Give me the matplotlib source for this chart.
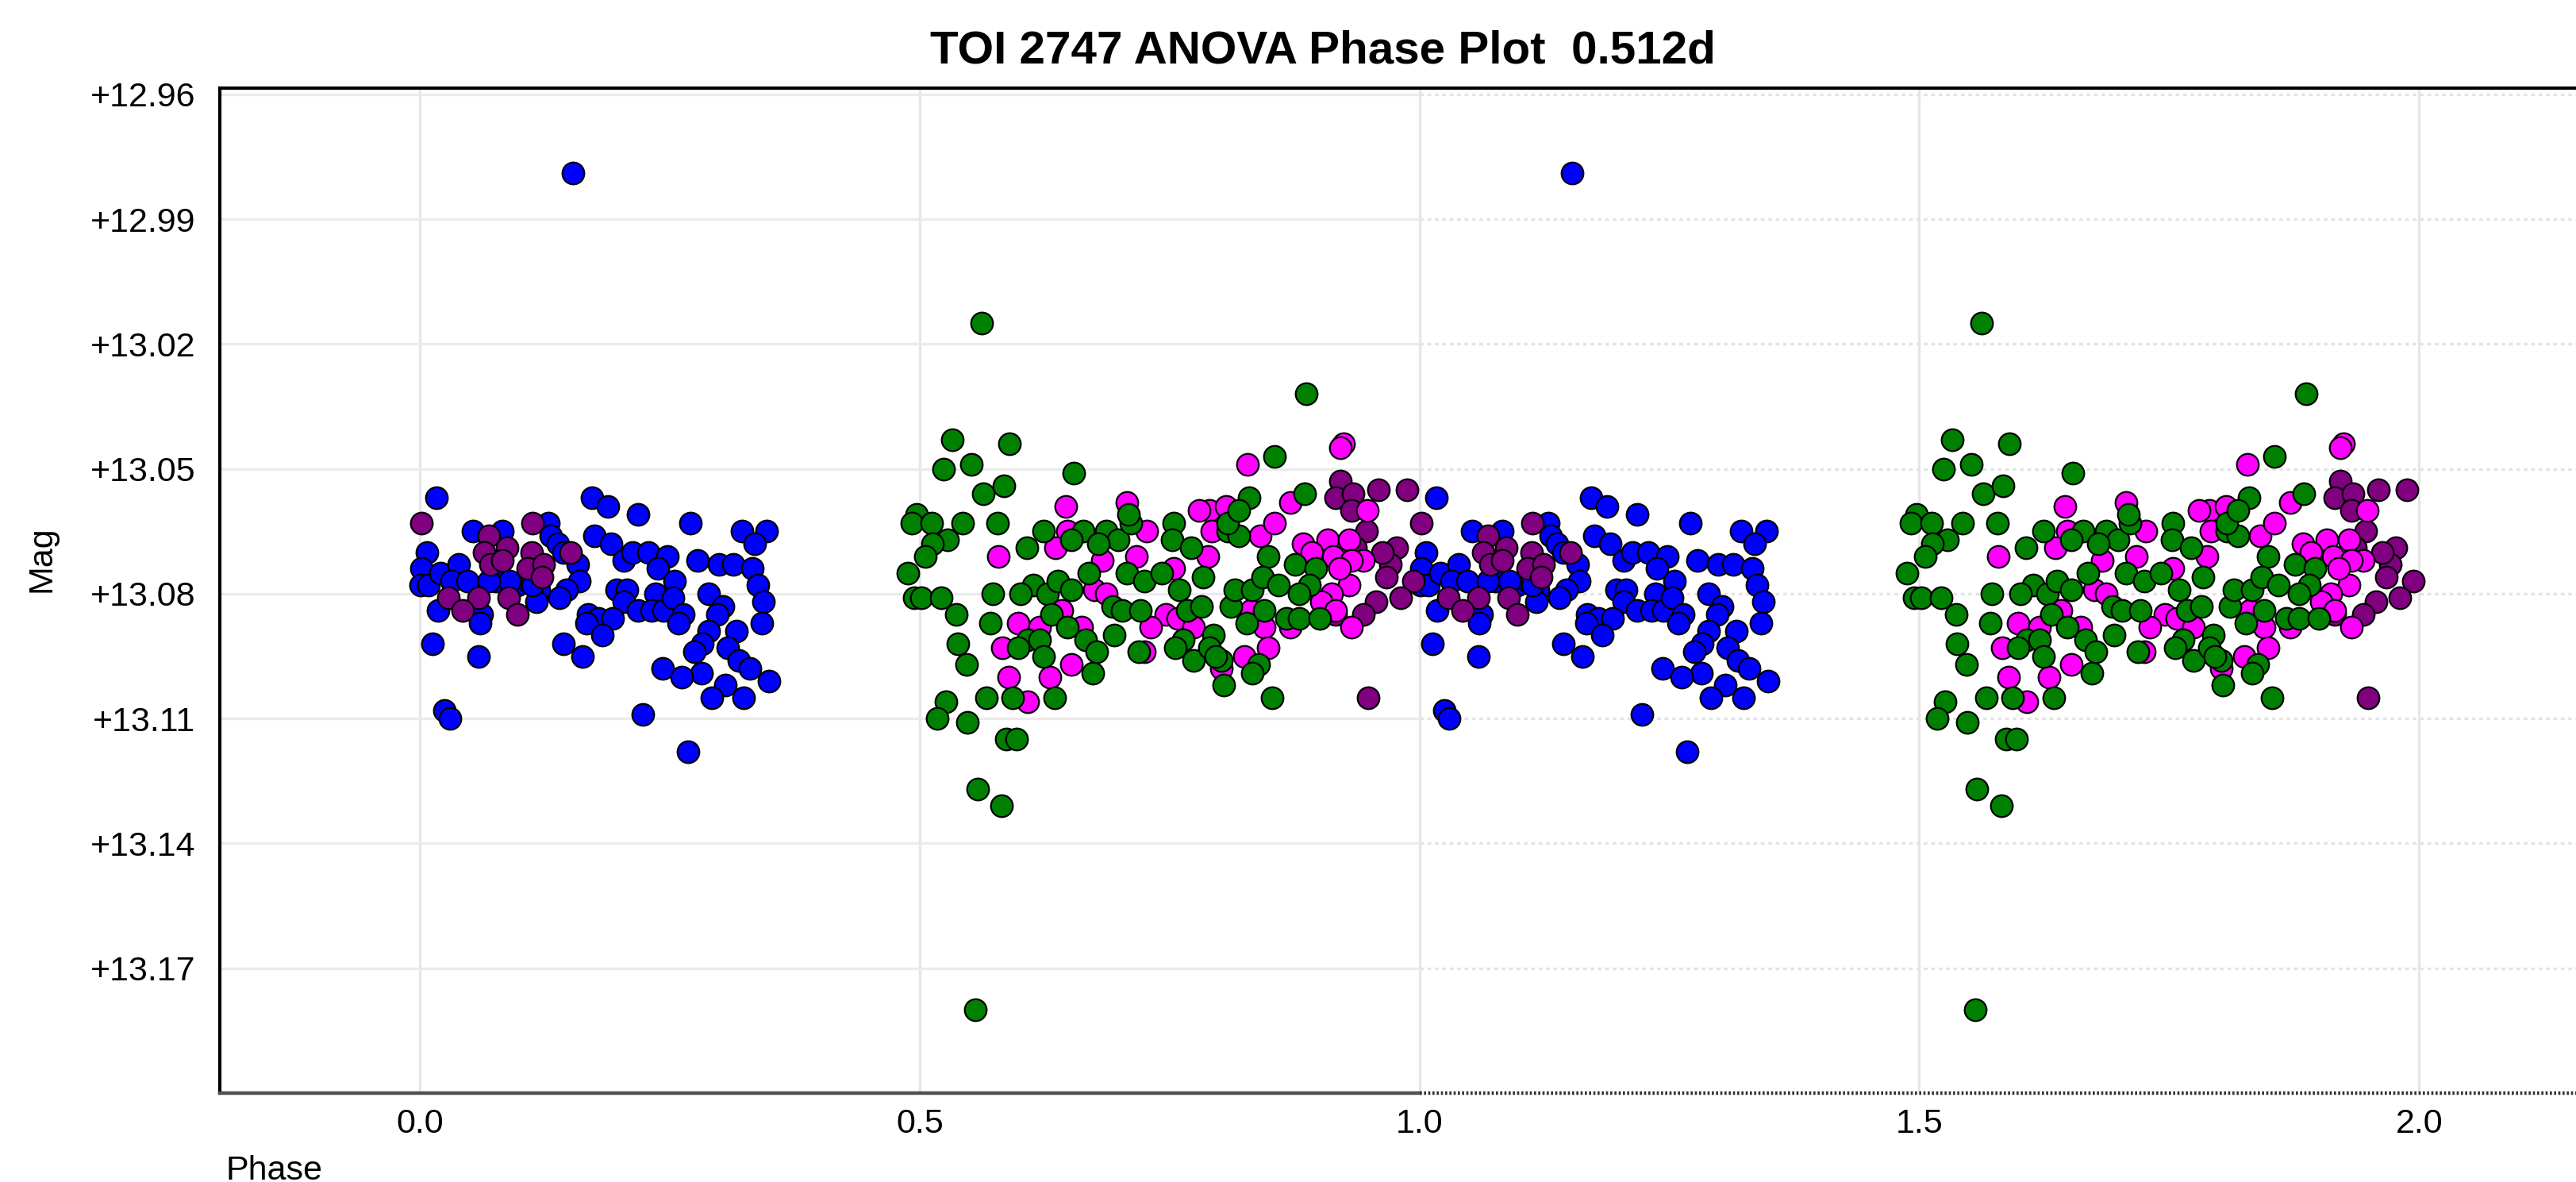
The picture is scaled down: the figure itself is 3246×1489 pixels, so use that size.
import matplotlib
matplotlib.use("Agg")
import matplotlib.pyplot as plt
import numpy as np

plt.rcParams['font.family'] = ['Liberation Sans', 'DejaVu Sans']

# phase (0..1) and magnitude; every point is shown twice (phase, phase + 1)
blue_phase = [0.153, 0.017, 0.007, 0.002, 0.001, 0.009, 0.021, 0.039, 0.032, 0.048,
              0.018, 0.013, 0.059, 0.025, 0.030, 0.053, 0.083, 0.076, 0.062, 0.060,
              0.129, 0.131, 0.138, 0.144, 0.158, 0.160, 0.147, 0.119, 0.117, 0.140,
              0.098, 0.108, 0.090, 0.144, 0.163, 0.172, 0.188, 0.218, 0.175, 0.191,
              0.204, 0.213, 0.229, 0.248, 0.238, 0.255, 0.271, 0.278, 0.299, 0.314,
              0.333, 0.322, 0.347, 0.335, 0.338, 0.344, 0.342, 0.197, 0.207, 0.236,
              0.204, 0.218, 0.232, 0.244, 0.253, 0.264, 0.259, 0.168, 0.179, 0.193,
              0.167, 0.183, 0.289, 0.303, 0.298, 0.289, 0.317, 0.283, 0.275, 0.308,
              0.319, 0.330, 0.282, 0.243, 0.262, 0.306, 0.292, 0.324, 0.349, 0.223,
              0.268, 0.113, 0.069]
blue_mag = [12.979, 13.057, 13.070, 13.074, 13.078, 13.078, 13.075, 13.073, 13.077, 13.077,
            13.084, 13.092, 13.095, 13.108, 13.110, 13.065, 13.065, 13.077, 13.085, 13.087,
            13.063, 13.066, 13.068, 13.070, 13.073, 13.077, 13.079, 13.079, 13.082, 13.081,
            13.078, 13.077, 13.077, 13.092, 13.095, 13.057, 13.059, 13.061, 13.066, 13.068,
            13.072, 13.070, 13.070, 13.071, 13.074, 13.077, 13.063, 13.072, 13.073, 13.073,
            13.074, 13.065, 13.065, 13.068, 13.078, 13.082, 13.087, 13.079, 13.079, 13.080,
            13.082, 13.084, 13.084, 13.084, 13.081, 13.085, 13.087, 13.085, 13.086, 13.086,
            13.087, 13.090, 13.080, 13.083, 13.085, 13.089, 13.089, 13.092, 13.094, 13.093,
            13.096, 13.098, 13.099, 13.098, 13.100, 13.102, 13.105, 13.105, 13.101, 13.109,
            13.118, 13.078, 13.077]

purple_phase = [0.002, 0.069, 0.087, 0.064, 0.071, 0.083, 0.113, 0.112, 0.108, 0.124,
                0.122, 0.151, 0.029, 0.059, 0.043, 0.089, 0.098,
                0.921, 0.916, 0.934, 0.959, 0.988, 0.932, 0.947, 0.977, 0.971, 0.967,
                0.994, 0.981, 0.957, 0.944, 0.916, 0.949, 0.936, 0.963]
purple_mag = [13.063, 13.066, 13.069, 13.070, 13.073, 13.072, 13.063, 13.070, 13.074, 13.073,
              13.076, 13.070, 13.081, 13.081, 13.084, 13.081, 13.085,
              13.053, 13.057, 13.056, 13.055, 13.055, 13.060, 13.065, 13.069, 13.073, 13.076,
              13.077, 13.081, 13.082, 13.085, 13.085, 13.105, 13.069, 13.070]

magenta_phase = [0.828, 0.924, 0.921, 0.871, 0.707, 0.646, 0.790, 0.780, 0.807, 0.948,
                 0.727, 0.792, 0.841, 0.855, 0.648, 0.636, 0.683, 0.717, 0.788, 0.579,
                 0.908, 0.914, 0.930, 0.944, 0.932, 0.930, 0.912, 0.902, 0.920, 0.884,
                 0.892, 0.754, 0.675, 0.687, 0.642, 0.746, 0.731, 0.599, 0.620, 0.662,
                 0.583, 0.845, 0.831, 0.652, 0.630, 0.589, 0.608, 0.849, 0.825, 0.802,
                 0.932, 0.916, 0.871, 0.758, 0.774, 0.725]
magenta_mag = [13.049, 13.044, 13.045, 13.058, 13.058, 13.059, 13.060, 13.060, 13.059, 13.060,
               13.065, 13.065, 13.066, 13.063, 13.065, 13.069, 13.072, 13.071, 13.071, 13.071,
               13.067, 13.071, 13.067, 13.072, 13.072, 13.078, 13.080, 13.082, 13.074, 13.068,
               13.070, 13.074, 13.079, 13.080, 13.084, 13.085, 13.088, 13.087, 13.088, 13.088,
               13.093, 13.088, 13.084, 13.097, 13.100, 13.100, 13.106, 13.093, 13.095, 13.098,
               13.088, 13.084, 13.088, 13.086, 13.088, 13.094]

green_phase = [0.562, 0.887, 0.533, 0.590, 0.524, 0.552, 0.654, 0.564, 0.584, 0.855,
               0.830, 0.885, 0.497, 0.492, 0.512, 0.543, 0.578, 0.528, 0.513, 0.506,
               0.488, 0.495, 0.502, 0.522, 0.537, 0.573, 0.571, 0.538, 0.547, 0.526,
               0.518, 0.548, 0.567, 0.593, 0.587, 0.597, 0.558, 0.582, 0.635, 0.673,
               0.624, 0.607, 0.664, 0.687, 0.699, 0.711, 0.709, 0.754, 0.753, 0.772,
               0.652, 0.679, 0.669, 0.707, 0.725, 0.742, 0.784, 0.760, 0.614, 0.601,
               0.628, 0.638, 0.652, 0.632, 0.648, 0.608, 0.620, 0.624, 0.599, 0.666,
               0.677, 0.695, 0.693, 0.703, 0.721, 0.719, 0.764, 0.756, 0.774, 0.768,
               0.794, 0.802, 0.804, 0.782, 0.811, 0.815, 0.833, 0.827, 0.845, 0.849,
               0.843, 0.859, 0.876, 0.896, 0.890, 0.880, 0.867, 0.880, 0.900, 0.839,
               0.833, 0.853, 0.808, 0.819, 0.808, 0.819, 0.790, 0.796, 0.556]
green_mag = [13.015, 13.032, 13.043, 13.044, 13.050, 13.049, 13.051, 13.056, 13.054, 13.047,
             13.057, 13.056, 13.061, 13.063, 13.063, 13.063, 13.063, 13.067, 13.068, 13.071,
             13.075, 13.081, 13.081, 13.081, 13.085, 13.080, 13.087, 13.092, 13.097, 13.106,
             13.110, 13.111, 13.105, 13.105, 13.115, 13.115, 13.127, 13.131, 13.105, 13.099,
             13.065, 13.069, 13.065, 13.065, 13.067, 13.063, 13.061, 13.063, 13.067, 13.069,
             13.067, 13.068, 13.075, 13.075, 13.077, 13.075, 13.076, 13.079, 13.078, 13.080,
             13.080, 13.077, 13.079, 13.085, 13.088, 13.091, 13.091, 13.095, 13.093, 13.091,
             13.094, 13.090, 13.083, 13.084, 13.084, 13.094, 13.091, 13.093, 13.096, 13.084,
             13.090, 13.096, 13.102, 13.083, 13.083, 13.079, 13.079, 13.087, 13.084, 13.071,
             13.076, 13.078, 13.073, 13.074, 13.078, 13.080, 13.086, 13.086, 13.086, 13.097,
             13.099, 13.105, 13.065, 13.066, 13.063, 13.060, 13.093, 13.095, 13.180]

x_ticks = [0.0, 0.5, 1.0, 1.5, 2.0]
y_ticks = [12.96, 12.99, 13.02, 13.05, 13.08, 13.11, 13.14, 13.17]

W, H = 3246, 1489
fig = plt.figure(figsize=(W / 100, H / 100), dpi=100)
ax = fig.add_axes([277 / W, 1 - 1377 / H, 1 - 277 / W, (1377 - 111) / H])
x_lo, x_hi = -0.2, 2.157
y_lo, y_hi = 13.20, 12.9585

# grid: vertical solid, horizontal solid up to phase 1 then dotted
grid_col = '#e6e6e6'
ax.vlines(x_ticks, y_hi, y_lo, color=grid_col, lw=2.4, zorder=0)
ax.hlines(y_ticks, x_lo, 1.0, color='#ebebeb', lw=2.4, zorder=0)
ax.hlines(y_ticks, 1.0, x_hi, color='#e3e3e3', lw=2.4, linestyles=(0, (1.4, 1.4)), zorder=0)

series = [(blue_phase, blue_mag, '#0000ff'),
          (purple_phase, purple_mag, '#800080'),
          (magenta_phase, magenta_mag, '#ff00ff'),
          (green_phase, green_mag, '#008000')]
for ph, mag, col in series:
    ph = np.array(ph)
    for shift in (0.0, 1.0):
        ax.scatter(ph + shift, mag, s=395, c=col, edgecolors='black', linewidths=1.6, zorder=3)

ax.set_xlim(x_lo, x_hi)
ax.set_ylim(y_lo, y_hi)
ax.set_xticks(x_ticks)
ax.set_xticklabels(['%.1f' % v for v in x_ticks])
ax.set_yticks(y_ticks)
ax.set_yticklabels(['+%.2f' % v for v in y_ticks])
ax.tick_params(axis='both', length=0, labelsize=31, colors='black')
ax.tick_params(axis='y', pad=22)
ax.tick_params(axis='x', pad=14)

for s in ['right', 'bottom']:
    ax.spines[s].set_visible(False)
for s in ['top', 'left']:
    ax.spines[s].set_linewidth(3)
    ax.spines[s].set_color('black')
ax.plot([x_lo, 1.0], [y_lo, y_lo], color='#505050', lw=3.2, clip_on=False, zorder=4)
ax.plot([1.0, x_hi], [y_lo, y_lo], color='#333333', lw=3.2, ls=(0, (0.6, 0.6)),
        clip_on=False, zorder=4)

fig.text(1667 / W, 1 - 65 / H, 'TOI 2747 ANOVA Phase Plot  0.512d',
         fontsize=42, fontweight='bold', ha='center', va='center')
fig.text(284 / W, 1 - 1486 / H, 'Phase', fontsize=31, ha='left', va='baseline')
fig.text(53 / W, 1 - 704 / H, 'Mag', fontsize=31, rotation=90, ha='center', va='center')

fig.savefig('out.png', dpi=100)
